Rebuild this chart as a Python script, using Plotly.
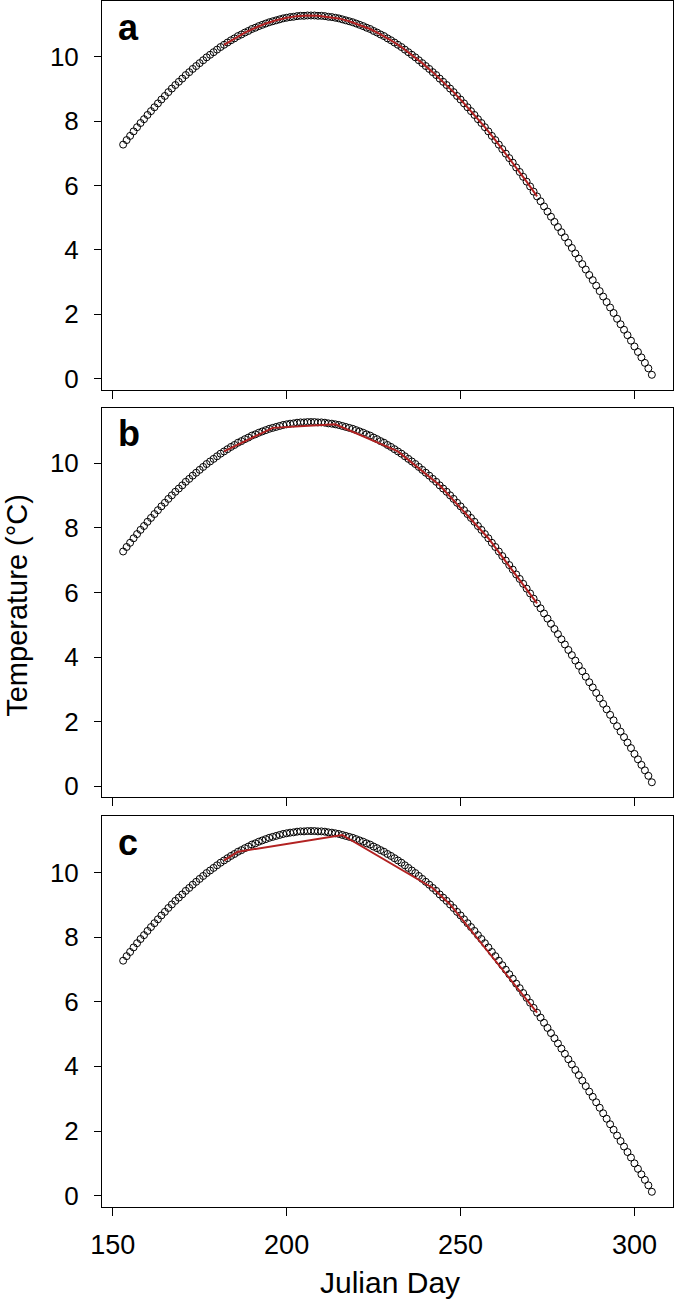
import plotly.graph_objects as go

# ---------------- data ----------------
days = list(range(153, 306))
temperature = [
    7.27, 7.41, 7.54, 7.68, 7.81, 7.94, 8.06, 8.19, 8.31, 8.43,   # 153-162
    8.55, 8.67, 8.78, 8.90, 9.01, 9.12, 9.22, 9.32, 9.43, 9.52,   # 163-172
    9.62, 9.71, 9.80, 9.89, 9.98, 10.06, 10.14, 10.22, 10.30, 10.37,  # 173-182
    10.44, 10.51, 10.57, 10.64, 10.69, 10.75, 10.80, 10.86, 10.90, 10.95,  # 183-192
    10.99, 11.03, 11.07, 11.10, 11.13, 11.16, 11.19, 11.21, 11.23, 11.24,  # 193-202
    11.26, 11.27, 11.27, 11.28, 11.28, 11.28, 11.27, 11.27, 11.26, 11.24,  # 203-212
    11.23, 11.21, 11.19, 11.16, 11.13, 11.10, 11.07, 11.03, 10.99, 10.95,  # 213-222
    10.90, 10.86, 10.80, 10.75, 10.69, 10.64, 10.57, 10.51, 10.44, 10.37,  # 223-232
    10.30, 10.22, 10.14, 10.06, 9.98, 9.89, 9.80, 9.71, 9.62, 9.52,   # 233-242
    9.43, 9.32, 9.22, 9.12, 9.01, 8.90, 8.78, 8.67, 8.55, 8.43,   # 243-252
    8.31, 8.19, 8.06, 7.94, 7.81, 7.68, 7.54, 7.41, 7.27, 7.13,   # 253-262
    6.99, 6.85, 6.71, 6.56, 6.42, 6.27, 6.12, 5.97, 5.81, 5.66,   # 263-272
    5.51, 5.35, 5.19, 5.03, 4.87, 4.71, 4.55, 4.39, 4.22, 4.06,   # 273-282
    3.89, 3.73, 3.56, 3.39, 3.22, 3.06, 2.89, 2.72, 2.55, 2.38,   # 283-292
    2.21, 2.04, 1.86, 1.69, 1.52, 1.35, 1.18, 1.00, 0.83, 0.66,   # 293-302
    0.49, 0.32, 0.12,                                             # 303-305
]

fit_days_a = [182, 185, 188, 191, 194, 197, 200, 203, 206, 209, 212, 215, 218, 221, 224,
              227, 230, 233, 236, 239, 242, 245, 248, 251, 254, 257, 260, 263, 266, 269, 272]
fit_vals_a = [10.37, 10.57, 10.75, 10.90, 11.03, 11.13, 11.21, 11.26, 11.28, 11.27, 11.24,
              11.19, 11.10, 10.99, 10.86, 10.69, 10.51, 10.30, 10.06, 9.80, 9.52, 9.22,
              8.90, 8.55, 8.19, 7.81, 7.41, 6.99, 6.56, 6.12, 5.66]

fit_days_b = [182, 196, 214, 232, 244, 258, 272]
fit_vals_b = [10.37, 11.10, 11.21, 10.37, 9.32, 7.68, 5.66]

fit_days_c = [182, 186, 216, 242, 247, 272]
fit_vals_c = [10.37, 10.64, 11.16, 9.52, 9.01, 5.66]

panel_labels = ["a", "b", "c"]
x_ticks = [150, 200, 250, 300]
y_ticks = [0, 2, 4, 6, 8, 10]

# ---------------- figure ----------------
FONT = "Liberation Sans, Arial, Helvetica, sans-serif"
RED = "#B22222"

fig = go.Figure()
fits = [(fit_days_a, fit_vals_a), (fit_days_b, fit_vals_b), (fit_days_c, fit_vals_c)]
for i, (fd, fv) in enumerate(fits):
    suffix = "" if i == 0 else str(i + 1)
    fig.add_trace(go.Scatter(
        x=days, y=temperature, mode="markers",
        marker=dict(symbol="circle-open", size=7, color="black", line=dict(width=1, color="black")),
        xaxis="x" + suffix, yaxis="y" + suffix, showlegend=False, hoverinfo="skip"))
    fig.add_trace(go.Scatter(
        x=fd, y=fv, mode="lines", line=dict(color=RED, width=2),
        xaxis="x" + suffix, yaxis="y" + suffix, showlegend=False, hoverinfo="skip"))

domains = [[0.6775, 1.0], [0.3396, 0.6629], [0.0, 0.3238]]
layout = dict(
    width=675, height=1304,
    margin=dict(l=102, r=2, t=1, b=96.7),
    paper_bgcolor="white", plot_bgcolor="white",
    font=dict(family=FONT, color="black"),
    showlegend=False,
)
for i in range(3):
    suffix = "" if i == 0 else str(i + 1)
    ax_id = "" if i == 0 else str(i + 1)
    layout["xaxis" + suffix] = dict(
        domain=[0, 1], anchor="y" + ax_id, range=[146.92, 311.08],
        tickvals=x_ticks, ticks="outside", ticklen=8, tickwidth=1, tickcolor="black",
        showticklabels=(i == 2), tickfont=dict(size=27, family=FONT, color="black"),
        ticklabelstandoff=6,
        showline=True, linecolor="black", linewidth=1, mirror=True,
        showgrid=False, zeroline=False,
    )
    layout["yaxis" + suffix] = dict(
        domain=domains[i], anchor="x" + ax_id, range=[-0.35, 11.73],
        tickvals=y_ticks, ticks="outside", ticklen=7, tickwidth=1, tickcolor="black",
        tickfont=dict(size=26, family=FONT, color="black"),
        ticklabelstandoff=10,
        showline=True, linecolor="black", linewidth=1, mirror=True,
        showgrid=False, zeroline=False,
    )
fig.update_layout(**layout)

annotations = []
for i, lab in enumerate(panel_labels):
    ax_id = "" if i == 0 else str(i + 1)
    annotations.append(dict(
        text="<b>%s</b>" % lab, xref="x%s domain" % ax_id, yref="y%s domain" % ax_id,
        x=0.024, y=0.99, xanchor="left", yanchor="top", showarrow=False,
        font=dict(size=36, family=FONT, color="black")))
annotations.append(dict(
    text="Temperature (\u00b0C)", xref="paper", yref="paper", x=-0.149, y=0.4993,
    xanchor="center", yanchor="middle", textangle=-90, showarrow=False,
    font=dict(size=29, family=FONT, color="black")))
annotations.append(dict(
    text="Julian Day", xref="paper", yref="paper", x=0.5044, y=-0.0628,
    xanchor="center", yanchor="middle", showarrow=False,
    font=dict(size=30, family=FONT, color="black")))
fig.update_layout(annotations=annotations)

fig.write_html("out.html", config={"displayModeBar": False},
               post_script="document.body.style.margin='0';document.body.style.overflow='hidden';")
